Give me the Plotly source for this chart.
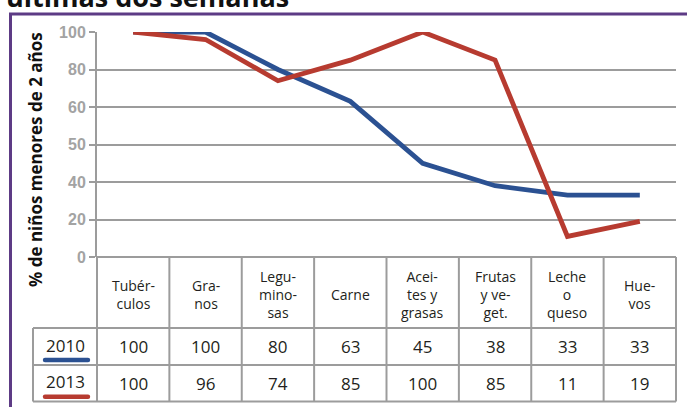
import numpy as np
import plotly.graph_objects as go

categories = ["Tubér-\nculos", "Gra-\nnos", "Legu-\nmino-\nsas", "Carne",
              "Acei-\ntes y\ngrasas", "Frutas\ny ve-\nget.", "Leche\no\nqueso", "Hue-\nvos"]
series_names = ["2010", "2013"]
values_2010 = [100, 100, 80, 63, 45, 38, 33, 33]
values_2013 = [100, 96, 74, 85, 100, 85, 11, 19]
tick_labels = [0, 20, 40, 50, 60, 80, 100]
colors = ["#2b5192", "#b73b30"]

W, H = 687, 407
L, R, T, B = 97, 11, 32, 150
pw, ph = W - L - R, H - T - B


def px(x):
    return (x - L) / pw


def py(y):
    return (H - B - y) / ph


tick_pos = list(range(len(tick_labels)))
xs = [i + 0.5 for i in range(len(categories))]

fig = go.Figure()
for name, vals, col in zip(series_names, [values_2010, values_2013], colors):
    fig.add_trace(go.Scatter(
        x=xs, y=np.interp(vals, tick_labels, tick_pos), mode="lines", name=name,
        line=dict(color=col, width=4.8), cliponaxis=False, hoverinfo="skip"))

grid = "#9c9c9c"
txt = "#231f20"
shapes = []
annotations = []

# table geometry (pixels)
y_top, y_hdr, y_r1, y_r2 = 257, 328, 365, 401.5
x_left = 33
ncat = len(categories)

# horizontal table lines
shapes.append(dict(type="line", xref="paper", yref="paper", x0=0, x1=1, y0=py(y_top), y1=py(y_top),
                   line=dict(color=grid, width=2)))
for yy in [y_hdr, y_r1, y_r2]:
    shapes.append(dict(type="line", xref="paper", yref="paper", x0=px(x_left), x1=1, y0=py(yy), y1=py(yy),
                       line=dict(color=grid, width=2)))
# vertical table lines
for i in range(ncat + 1):
    shapes.append(dict(type="line", xref="paper", yref="paper", x0=i / ncat, x1=i / ncat,
                       y0=py(y_top), y1=py(y_r2), line=dict(color=grid, width=2)))
shapes.append(dict(type="line", xref="paper", yref="paper", x0=px(x_left), x1=px(x_left),
                   y0=py(y_hdr), y1=py(y_r2), line=dict(color=grid, width=2)))

# header text
hdr_c = 294
for i, cat in enumerate(categories):
    annotations.append(dict(x=xs[i], y=py(hdr_c), xref="x", yref="paper", text=cat.replace("\n", "<br>"),
                            showarrow=False, xanchor="center", yanchor="middle",
                            font=dict(family="Open Sans", size=14, color=txt)))

# value rows
row_c = [(y_hdr + y_r1) / 2, (y_r1 + y_r2) / 2]
for name, vals, col, rc in zip(series_names, [values_2010, values_2013], colors, row_c):
    for i, v in enumerate(vals):
        annotations.append(dict(x=xs[i], y=py(rc), xref="x", yref="paper", text=str(v), showarrow=False,
                                xanchor="center", yanchor="middle",
                                font=dict(family="Open Sans", size=17, color=txt)))
    annotations.append(dict(x=px(65), y=py(rc - 1.5), xref="paper", yref="paper", text=name, showarrow=False,
                            xanchor="center", yanchor="middle",
                            font=dict(family="Open Sans", size=17, color=txt)))
    # rounded underline
    yb = rc + 13.5
    r = 2.2
    x0, x1 = 45, 88
    path = (f"M {px(x0)},{py(yb - r)} L {px(x1)},{py(yb - r)} "
            f"Q {px(x1 + r)},{py(yb - r)} {px(x1 + r)},{py(yb)} "
            f"Q {px(x1 + r)},{py(yb + r)} {px(x1)},{py(yb + r)} "
            f"L {px(x0)},{py(yb + r)} "
            f"Q {px(x0 - r)},{py(yb + r)} {px(x0 - r)},{py(yb)} "
            f"Q {px(x0 - r)},{py(yb - r)} {px(x0)},{py(yb - r)} Z")
    shapes.append(dict(type="path", xref="paper", yref="paper", path=path, fillcolor=col,
                       line=dict(width=0)))

# purple frame
purple = "#5d3b85"
shapes.append(dict(type="line", xref="paper", yref="paper", x0=px(9), x1=px(700), y0=py(14), y1=py(14),
                   line=dict(color=purple, width=3)))
shapes.append(dict(type="line", xref="paper", yref="paper", x0=px(10.5), x1=px(10.5), y0=py(14), y1=py(420),
                   line=dict(color=purple, width=3)))

# y title
annotations.append(dict(x=px(35), y=py(160), xref="paper", yref="paper", text="% de niños menores de 2 años",
                        textangle=-90, showarrow=False, xanchor="center", yanchor="middle",
                        font=dict(family="Open Sans", size=17, color="#111111", weight="bold")))
# cropped chart title
annotations.append(dict(x=px(4), y=py(-3.5), xref="paper", yref="paper", text="últimas dos semanas",
                        showarrow=False, xanchor="left", yanchor="middle",
                        font=dict(family="Open Sans", size=27, color="#111111", weight="bold")))

fig.update_layout(
    width=W, height=H, margin=dict(l=L, r=R, t=T, b=B, pad=0),
    paper_bgcolor="white", plot_bgcolor="white", showlegend=False,
    xaxis=dict(range=[0, ncat], visible=False, fixedrange=True),
    yaxis=dict(range=[0, 6], tickvals=tick_pos, ticktext=[str(t) for t in tick_labels],
               showgrid=True, gridcolor=grid, gridwidth=2, zeroline=False,
               showline=True, linecolor=grid, linewidth=2,
               ticks="outside", ticklen=6, tickwidth=2, tickcolor=grid,
               tickfont=dict(family="Liberation Sans", size=16, color="#a3a3a3", weight="bold"),
               fixedrange=True),
    shapes=shapes, annotations=annotations,
)

fig.write_html("out.html", config={"displayModeBar": False},
               post_script="document.body.style.margin='0px';document.body.style.overflow='hidden';")
